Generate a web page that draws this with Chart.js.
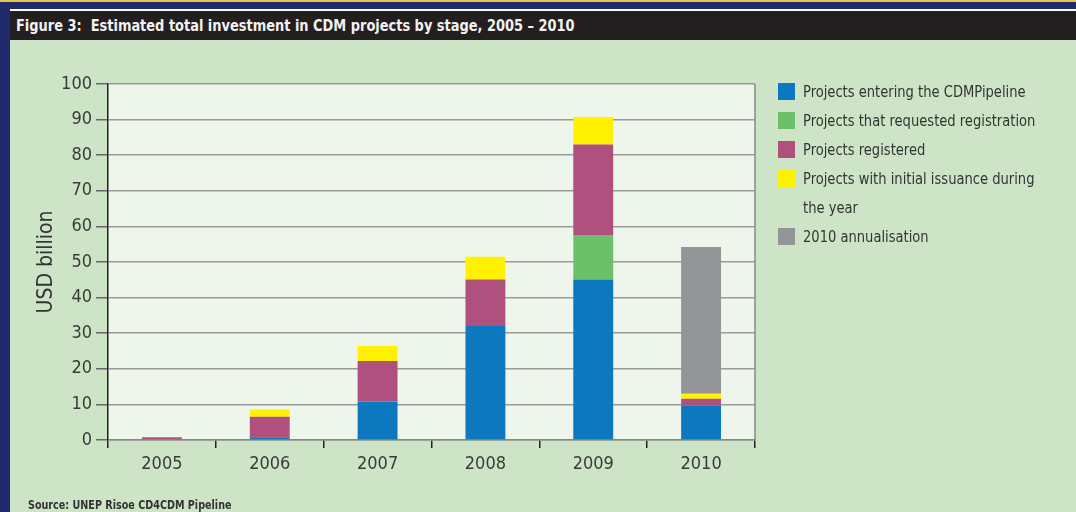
<!DOCTYPE html>
<html>
<head>
<meta charset="utf-8">
<script src="https://cdn.jsdelivr.net/npm/chart.js@4"></script>
<style>
   body { margin: 0; width: 1076px; height: 512px; overflow: hidden; background: #1f2a6b; position: relative;
      font-family: 'Liberation Sans Narrow', 'DejaVu Sans Condensed', 'Roboto Condensed', sans-serif; }
   .topline { position: absolute; left: 0; top: 0; width: 1076px; height: 2px; background: #e6c34a; }
   .panel { position: absolute; left: 10px; top: 9px; right: 0; bottom: 0; background: #cde5c6; border-top: 2px solid #ffffff; }
   .title { position: absolute; left: 10px; top: 11px; right: 0; height: 29px; background: #231f20; color: #f2f2f2;
      font-weight: bold; font-size: 16px; line-height: 29px; padding-left: 6px; white-space: nowrap; }
   .title span { display: inline-block; transform: scaleX(0.9); transform-origin: left center; }
   #chartBox { position: absolute; left: 0; top: 0; width: 1076px; height: 512px; }
   .legend { position: absolute; left: 778px; top: 77px; color: #333; font-size: 16px; }
   .legend-item { position: relative; padding-left: 25px; line-height: 29px; }
   .legend-item .box { position: absolute; left: 0; top: 6px; width: 17px; height: 17px; }
   .legend-item .txt { display: inline-block; width: 265px; transform: scaleX(0.91); transform-origin: left top; }
   .source { position: absolute; left: 28px; top: 498px; color: #333; font-size: 12px; font-weight: bold; white-space: nowrap;
      transform: scaleX(0.89); transform-origin: left top; }
</style>
</head>
<body>
<div class="topline"></div>
<div class="panel"></div>
<div class="title"><span>Figure 3:&nbsp; Estimated total investment in CDM projects by stage, 2005 – 2010</span></div>
<div id="chartBox"><canvas id="cdmChart" width="1076" height="512"></canvas></div>
<div class="legend" id="legend"></div>
<div class="source">Source: UNEP Risoe CD4CDM Pipeline</div>
<script>
   const years = ['2005', '2006', '2007', '2008', '2009', '2010'];
   const stageNames = [
      'Projects entering the CDMPipeline',
      'Projects that requested registration',
      'Projects registered',
      'Projects with initial issuance during the year',
      '2010 annualisation'
   ];
   const stageColors = ['#0b78bf', '#6cc06a', '#b0507f', '#fff200', '#939598'];

   // USD billion (stacked)
   const entering = [0, 0.8, 10.8, 32.0, 45.1, 9.6];
   const requested = [0, 0, 0, 0, 12.5, 0];
   const registered = [0.8, 5.7, 11.4, 13.1, 25.4, 2.0];
   const issuance = [0, 2.1, 4.2, 6.4, 7.7, 1.4];
   const annualisation = [0, 0, 0, 0, 0, 41.2];

   const yTicks = [0, 10, 20, 30, 40, 50, 60, 70, 80, 90, 100];

   const seriesValues = [entering, requested, registered, issuance, annualisation];
   const fontFamily = "'Liberation Sans Narrow', 'DejaVu Sans Condensed', 'Roboto Condensed', sans-serif";

   // legend as html so the long label can wrap
   const legendEl = document.getElementById('legend');
   stageNames.forEach((name, i) => {
      const item = document.createElement('div');
      item.className = 'legend-item';
      const box = document.createElement('span');
      box.className = 'box';
      box.style.background = stageColors[i];
      const txt = document.createElement('span');
      txt.className = 'txt';
      txt.textContent = name;
      item.appendChild(box);
      item.appendChild(txt);
      legendEl.appendChild(item);
   });

   // plot background + right border
   const plotBackground = {
      id: 'plotBackground',
      beforeDraw(chart) {
         const {ctx, chartArea} = chart;
         ctx.save();
         ctx.fillStyle = '#eef6ec';
         ctx.fillRect(chartArea.left, chartArea.top, chartArea.right - chartArea.left, chartArea.bottom - chartArea.top);
         ctx.restore();
      },
      afterDraw(chart) {
         const {ctx, chartArea} = chart;
         ctx.save();
         ctx.strokeStyle = '#888';
         ctx.lineWidth = 1.5;
         ctx.beginPath();
         ctx.moveTo(chartArea.right, chartArea.top);
         ctx.lineTo(chartArea.right, chartArea.bottom);
         ctx.stroke();
         ctx.restore();
      }
   };

   new Chart(document.getElementById('cdmChart'), {
      type: 'bar',
      data: {
         labels: years,
         datasets: seriesValues.map((vals, i) => ({
            label: stageNames[i],
            data: vals,
            backgroundColor: stageColors[i],
            borderWidth: 0,
            barPercentage: 0.37,
            categoryPercentage: 1
         }))
      },
      options: {
         responsive: false,
         animation: false,
         layout: { padding: { left: 30, right: 321, top: 84, bottom: 36 } },
         plugins: { legend: { display: false }, tooltip: { enabled: false } },
         scales: {
            x: {
               stacked: true,
               grid: { drawOnChartArea: false, offset: true, tickLength: 8, tickColor: '#222', lineWidth: 1.5 },
               border: { color: '#888', width: 1.5 },
               ticks: { color: '#3a3a3a', font: { family: fontFamily, size: 18 }, padding: 6 },
               afterFit(scale) { scale.height = 36; }
            },
            y: {
               stacked: true,
               min: 0,
               max: 100,
               afterBuildTicks(scale) { scale.ticks = yTicks.map(v => ({value: v})); },
               grid: { color: '#9a9a9a', lineWidth: 1.5, tickLength: 12, tickColor: '#666' },
               border: { color: '#222', width: 1.5 },
               ticks: { color: '#3a3a3a', font: { family: fontFamily, size: 18 }, padding: 4 },
               title: { display: true, text: 'USD billion', color: '#333', font: { family: fontFamily, size: 21 }, padding: { bottom: 6 } },
               afterFit(scale) { scale.width = 78; }
            }
         }
      },
      plugins: [plotBackground]
   });
</script>
</body>
</html>
